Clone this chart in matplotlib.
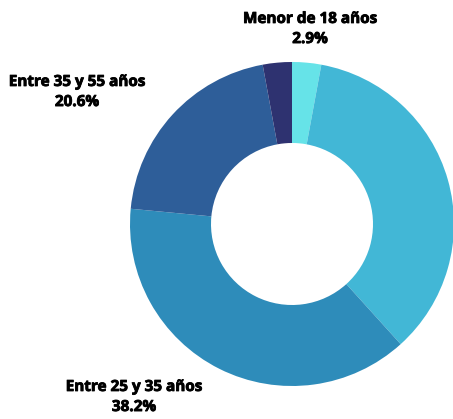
import matplotlib.pyplot as plt
import matplotlib.patheffects as pe

# distribución por edad
grupos = ['Menor de 18 años', 'Entre 18 y 25 años', 'Entre 25 y 35 años',
          'Entre 35 y 55 años', 'Mayor de 55 años']
porcentajes = [2.9, 35.4, 38.2, 20.6, 2.9]
colores = ['#66E3E8', '#42B7D6', '#2E8CBA', '#2E5E99', '#2E3270']
con_etiqueta = ['Menor de 18 años', 'Entre 25 y 35 años', 'Entre 35 y 55 años']

plt.rcParams['font.family'] = ['Open Sans', 'DejaVu Sans']

W, H = 453, 419
fig = plt.figure(figsize=(W / 100, H / 100), dpi=100)
cx, cy, r = 292, 224, 162
ax = fig.add_axes([(cx - r) / W, (H - cy - r) / H, 2 * r / W, 2 * r / H])
ax.pie(porcentajes, colors=colores, startangle=90, counterclock=False,
       radius=1, wedgeprops=dict(width=0.5, linewidth=0))
ax.set_xlim(-1, 1)
ax.set_ylim(-1, 1)
ax.set_aspect('equal')
ax.axis('off')

# posiciones de las etiquetas en píxeles (x, y del centro del bloque)
pos_etiquetas = {'Menor de 18 años': (310, 29),
                 'Entre 35 y 55 años': (77, 92),
                 'Entre 25 y 35 años': (134, 397)}
# trazo fino para engrosar la negrita
grueso = [pe.withStroke(linewidth=0.6, foreground='black')]
for g, p in zip(grupos, porcentajes):
    if g in con_etiqueta:
        x, y = pos_etiquetas[g]
        fig.text(x / W, 1 - y / H, f'{g}\n{p}%', ha='center', va='center',
                 fontsize=11, fontweight='bold', linespacing=1.55,
                 path_effects=grueso)

fig.savefig('out.png', dpi=100)
